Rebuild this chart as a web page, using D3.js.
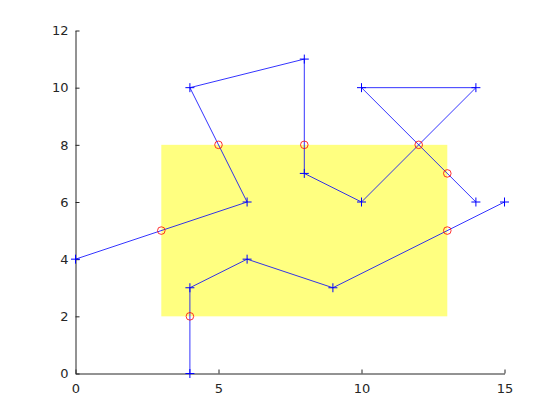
<!DOCTYPE html>
<html>
<head>
<meta charset="utf-8">
<script src="https://cdn.jsdelivr.net/npm/d3@7"></script>
<style>
  body { margin: 0; background: #fff; }
  svg { display: block; }
</style>
</head>
<body>
<svg id="chart" width="560" height="420"></svg>
<script>
// clip window (x0, x1, y0, y1)
const clipRect = [3, 13, 2, 8]

// two polylines, vertices marked with '+'
const lineA = [[4, 0], [4, 3], [6, 4], [9, 3], [15, 6]]
const lineB = [[14, 6], [10, 10], [14, 10], [10, 6], [8, 7], [8, 11], [4, 10], [6, 6], [0, 4]]

// crossing points with the window, marked with 'o'
const crossings = [[4, 2], [13, 5], [13, 7], [12, 8], [8, 8], [5, 8], [3, 5]]

const xTicks = [0, 5, 10, 15]
const yTicks = [0, 2, 4, 6, 8, 10, 12]

const svg = d3.select('#chart')
const x = d3.scaleLinear().domain([0, 15]).range([75.5, 504.5])
const y = d3.scaleLinear().domain([0, 12]).range([373.5, 30.5])

const axisColor = '#262626'
const lineColor = '#0000ff'

// yellow window
svg.append('rect')
  .attr('x', x(clipRect[0]))
  .attr('y', y(clipRect[3]))
  .attr('width', x(clipRect[1]) - x(clipRect[0]))
  .attr('height', y(clipRect[2]) - y(clipRect[3]))
  .attr('fill', '#ffff80')

// Axes
const xAxis = svg.append('g')
  .attr('transform', `translate(0,${y(0)})`)
  .call(d3.axisBottom(x).tickValues(xTicks).tickSizeInner(-4).tickSizeOuter(0).tickPadding(10))
const yAxis = svg.append('g')
  .attr('transform', `translate(${x(0)},0)`)
  .call(d3.axisLeft(y).tickValues(yTicks).tickSizeInner(-4).tickSizeOuter(0).tickPadding(7))

;[xAxis, yAxis].forEach(g => {
  g.select('.domain').attr('stroke', axisColor)
  g.selectAll('.tick line').attr('stroke', axisColor)
  g.selectAll('.tick text')
    .attr('fill', axisColor)
    .style('font-family', 'DejaVu Sans, sans-serif')
    .style('font-size', '13px')
})

// polylines
const line = d3.line().x(d => x(d[0])).y(d => y(d[1]))
;[lineA, lineB].forEach(pts => {
  svg.append('path')
    .attr('d', line(pts))
    .attr('fill', 'none')
    .attr('stroke', lineColor)
    .attr('stroke-width', 0.8)
})

// '+' markers
const vertices = lineA.concat(lineB)
svg.append('g')
  .selectAll('path')
  .data(vertices)
  .join('path')
  .attr('d', d => {
    const cx = x(d[0]), cy = y(d[1]), r = 4.5
    return `M${cx - r},${cy}H${cx + r}M${cx},${cy - r}V${cy + r}`
  })
  .attr('stroke', lineColor)
  .attr('stroke-width', 1)

// 'o' markers
svg.append('g')
  .selectAll('circle')
  .data(crossings)
  .join('circle')
  .attr('cx', d => x(d[0]))
  .attr('cy', d => y(d[1]))
  .attr('r', 3.8)
  .attr('fill', 'none')
  .attr('stroke', '#ff0000')
  .attr('stroke-width', 0.8)
</script>
</body>
</html>
